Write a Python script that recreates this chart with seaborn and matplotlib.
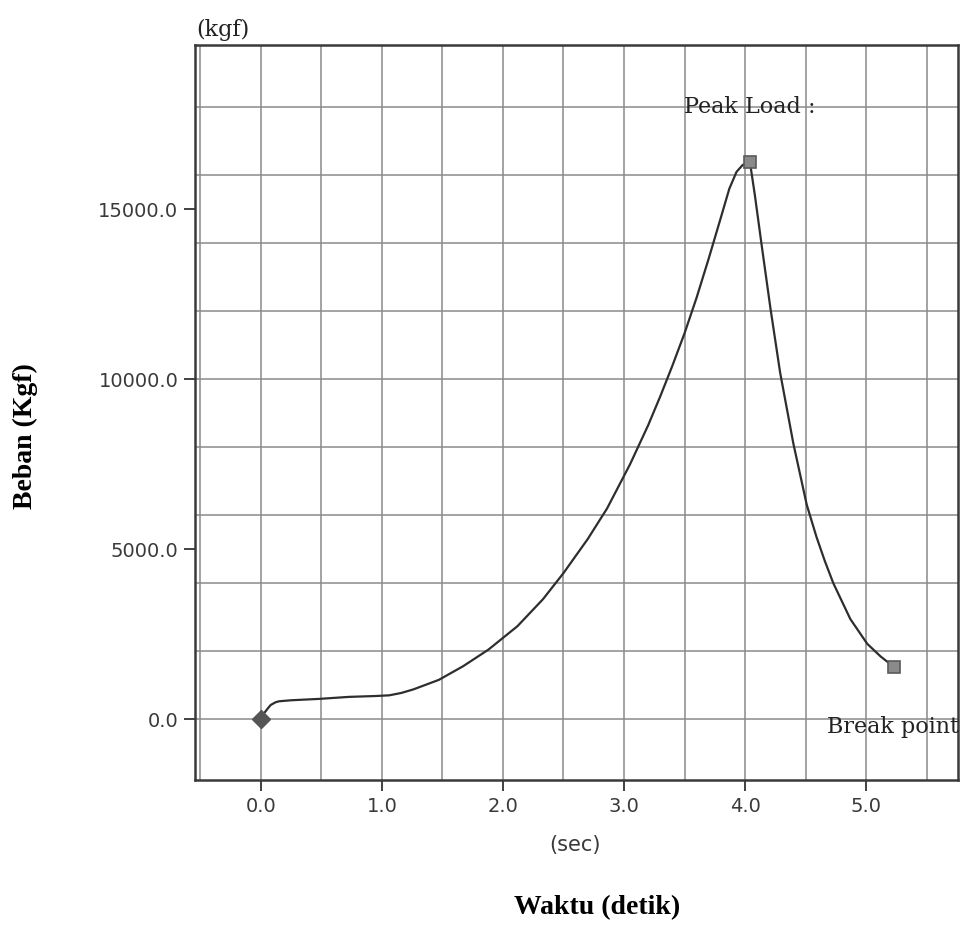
import matplotlib
matplotlib.use("Agg")
import matplotlib.pyplot as plt
import seaborn as sns
import pandas as pd

# load curve
time_sec = [0.00, 0.02, 0.05, 0.08, 0.12, 0.15, 0.25, 0.48, 0.73, 0.95, 1.06, 1.16,
            1.26, 1.47, 1.67, 1.88, 2.12, 2.33, 2.50, 2.70, 2.86, 3.05, 3.20, 3.30,
            3.40, 3.50, 3.60, 3.70, 3.80, 3.87, 3.93, 3.98, 4.04, 4.08, 4.14, 4.21,
            4.29, 4.40, 4.51, 4.59, 4.66, 4.73, 4.87, 5.01, 5.12, 5.23]
load_kgf = [0, 150, 290, 420, 500, 530, 560, 600, 660, 685, 705, 775,
            880, 1160, 1560, 2050, 2740, 3530, 4300, 5300, 6200, 7500, 8650, 9500,
            10400, 11350, 12400, 13550, 14750, 15600, 16100, 16300, 16400, 15450, 13880, 12090,
            10200, 8100, 6310, 5370, 4650, 4000, 2950, 2220, 1850, 1540]

start_point = (0.0, 0)
peak_point = (4.04, 16400)
break_point = (5.23, 1540)

x_ticks = [0.0, 1.0, 2.0, 3.0, 4.0, 5.0]
x_tick_labels = ["0.0", "1.0", "2.0", "3.0", "4.0", "5.0"]
y_ticks = [0, 5000, 10000, 15000]
y_tick_labels = ["0.0", "5000.0", "10000.0", "15000.0"]
x_grid = [-0.5, 0.0, 0.5, 1.0, 1.5, 2.0, 2.5, 3.0, 3.5, 4.0, 4.5, 5.0, 5.5]
y_grid = [0, 2000, 4000, 6000, 8000, 10000, 12000, 14000, 16000, 18000]

df = pd.DataFrame({"time": time_sec, "load": load_kgf})

sns.set_theme(style="white")
plt.rcParams["font.family"] = ["DejaVu Sans"]

fig = plt.figure(figsize=(9.6, 9.26), dpi=100)
ax = fig.add_axes([195 / 960, 1 - 780 / 926, (958 - 195) / 960, (780 - 45) / 926])

sns.lineplot(data=df, x="time", y="load", ax=ax, color="#2e2e2e", linewidth=1.6,
             estimator=None, sort=False, zorder=3)

ax.plot(*start_point, marker="D", markersize=9, color="#555555", zorder=4)
for pt in (peak_point, break_point):
    ax.plot(*pt, marker="s", markersize=9, color="#8a8a8a",
            markeredgecolor="#5a5a5a", markeredgewidth=1.2, zorder=4)

ax.set_xlim(-0.545, 5.76)
ax.set_ylim(-1785, 19830)

ax.set_xticks(x_ticks)
ax.set_xticklabels(x_tick_labels)
ax.set_yticks(y_ticks)
ax.set_yticklabels(y_tick_labels)
# grid sits on its own (minor) positions, keep the ones that overlap the labelled ticks
ax.xaxis.remove_overlapping_locs = False
ax.yaxis.remove_overlapping_locs = False
ax.set_xticks(x_grid, minor=True)
ax.set_yticks(y_grid, minor=True)
ax.grid(False)
ax.grid(which="minor", color="#8a8a8a", linewidth=1.1)
ax.set_axisbelow(True)
ax.tick_params(which="minor", length=0)
ax.tick_params(which="major", direction="out", length=8, width=1.3, color="#333333",
               labelsize=14, labelcolor="#3a3a3a", pad=4, bottom=True, left=True)

for sp in ax.spines.values():
    sp.set_color("#3a3a3a")
    sp.set_linewidth(1.8)

ax.set_xlabel("")
ax.set_ylabel("")

ax.text(peak_point[0], 18000, "Peak Load :", ha="center", va="center",
        family="DejaVu Serif", fontsize=16, color="#222222", zorder=5)
ax.text(4.68, -220, "Break point", ha="left", va="center",
        family="DejaVu Serif", fontsize=16, color="#222222", zorder=5)

fig.text(223 / 960, 1 - 30 / 926, "(kgf)", ha="center", va="center",
         family="DejaVu Serif", fontsize=16, color="#222222")
fig.text(575 / 960, 1 - 845 / 926, "(sec)", ha="center", va="center",
         fontsize=15, color="#3a3a3a")
fig.text(597 / 960, 1 - 908 / 926, "Waktu (detik)", ha="center", va="center",
         family="Liberation Serif", fontweight="bold", fontsize=20, color="black")
fig.text(25 / 960, 1 - 436 / 926, "Beban (Kgf)", ha="center", va="center",
         rotation=90, family="Liberation Serif", fontweight="bold", fontsize=20,
         color="black")

fig.savefig("out.png", dpi=100, facecolor="white")
